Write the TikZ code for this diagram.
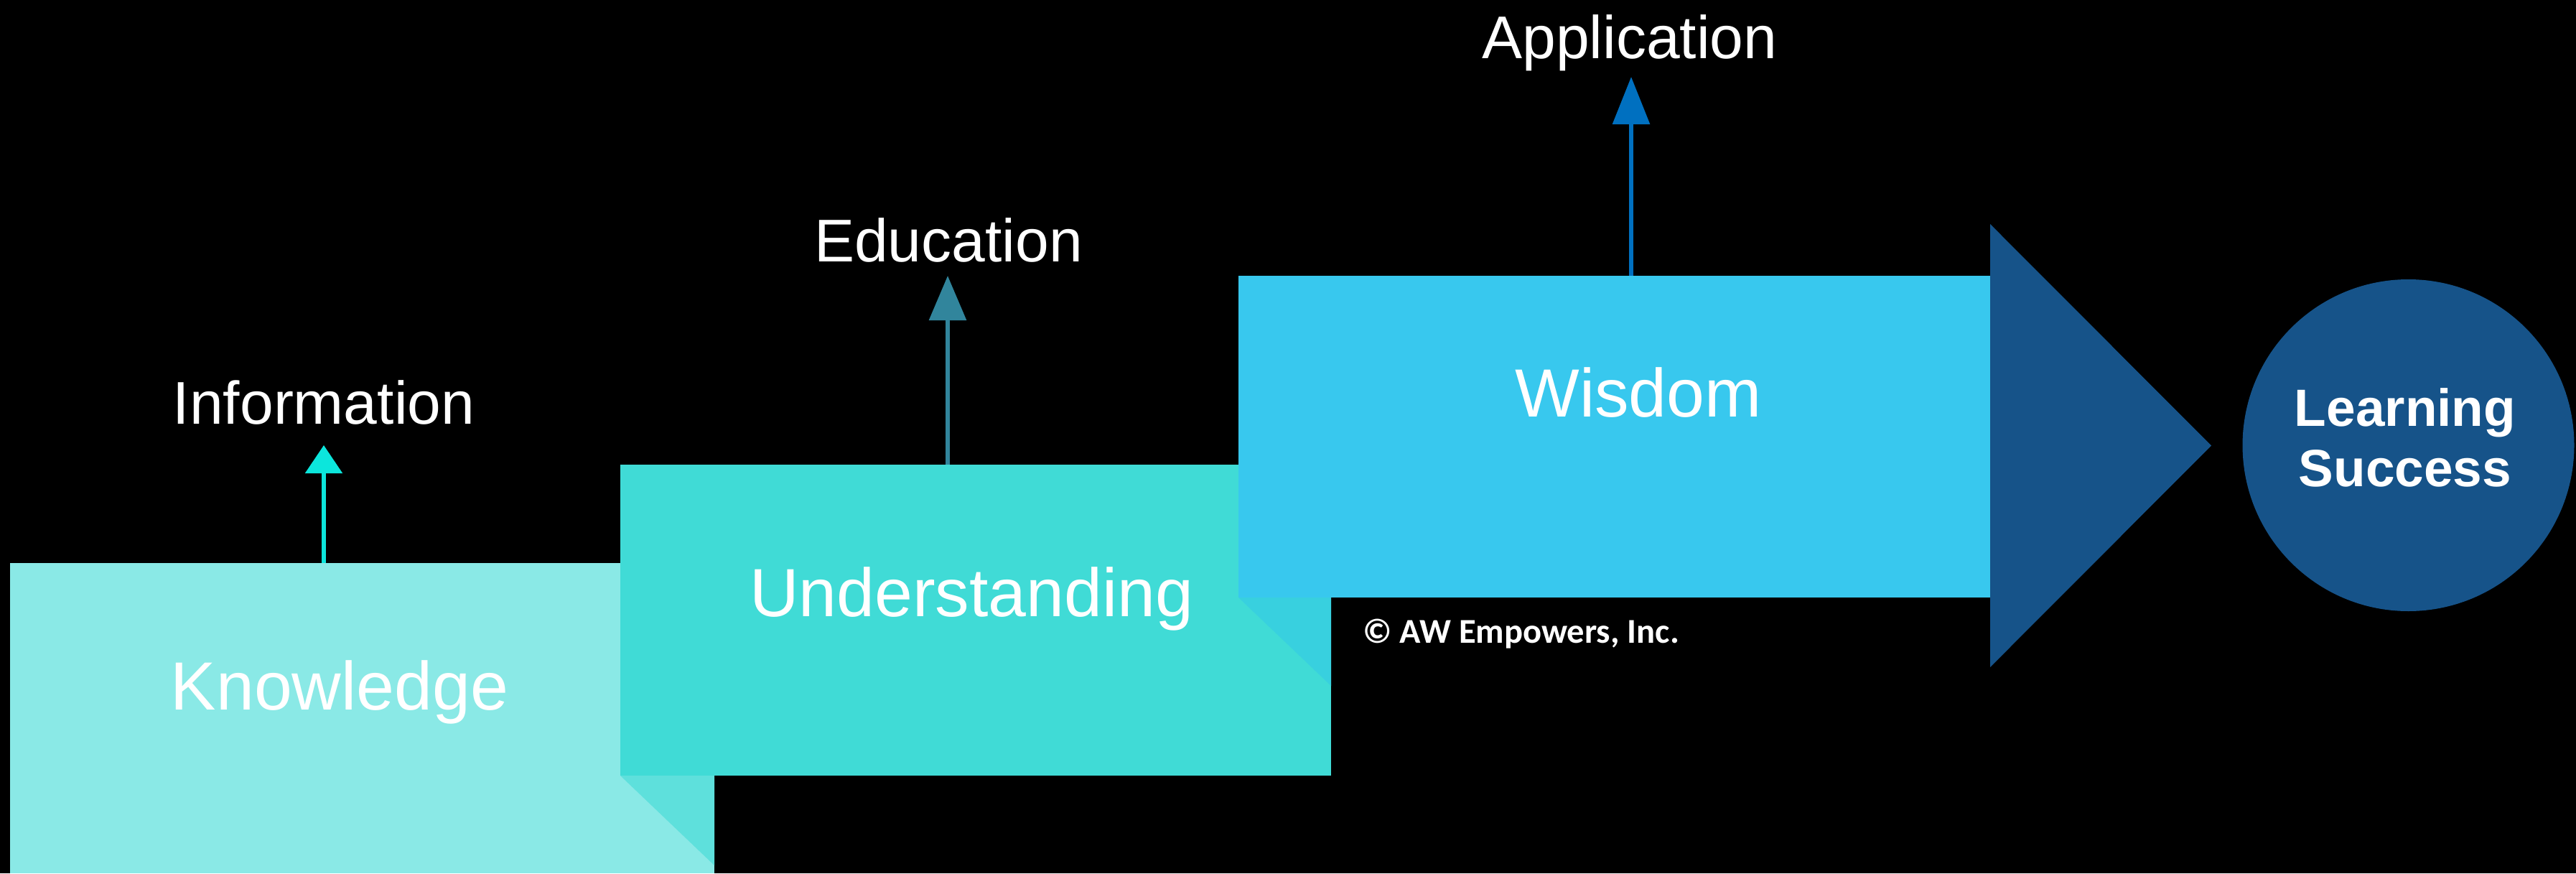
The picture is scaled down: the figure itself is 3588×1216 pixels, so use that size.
\documentclass[tikz,border=0pt]{standalone}
\usepackage{fontspec}
\setmainfont{Liberation Sans}
\newfontfamily\califont{Carlito}
\usetikzlibrary{arrows.meta}
\definecolor{knowc}{HTML}{8AE9E6}
\definecolor{knowfoldc}{HTML}{5EE0DC}
\definecolor{undc}{HTML}{40DBD6}
\definecolor{undfoldc}{HTML}{38D0DF}
\definecolor{wisc}{HTML}{38C8EE}
\definecolor{darkc}{HTML}{165389}
\definecolor{infoc}{HTML}{0CE6DC}
\definecolor{educ}{HTML}{31859C}
\definecolor{appc}{HTML}{0070C0}
\tikzset{
  panel/.style={rectangle, anchor=north west, inner sep=0pt, outer sep=0pt},
  toplbl/.style={text=white, inner sep=0pt, anchor=base, font=\fontsize{84}{96}\selectfont},
  boxlbl/.style={text=white, inner sep=0pt, anchor=base, font=\fontsize{95}{110}\selectfont},
  riser/.style={line width=6pt},
}
\begin{document}
\begin{tikzpicture}[x=1pt,y=-1pt]
\fill[black] (0,0) rectangle (3588,1216);
% steps
\node[panel, fill=knowc, minimum width=981pt, minimum height=432pt] (know) at (14,784) {};
\fill[knowfoldc] (864,1080) -- (995,1080) -- (995,1205) -- cycle;
\node[panel, fill=undc, minimum width=990pt, minimum height=433pt] (und) at (864,647) {};
\fill[undfoldc] (1725,832) -- (1854,832) -- (1854,955) -- cycle;
\node[panel, fill=wisc, minimum width=1047pt, minimum height=448pt] (wis) at (1725,384) {};
\fill[darkc] (2772,312) -- (3080,620.5) -- (2772,929) -- cycle;
\node[circle, fill=darkc, inner sep=0pt, minimum size=462pt] (goal) at (3354.5,620) {};
% labels
\node[boxlbl] (knowt) at (473,988) {Knowledge};
\node[boxlbl] (undt) at (1353,858) {Understanding};
\node[boxlbl] (wist) at (2282,580) {Wisdom};
\node[toplbl] (infot) at (451,590) {Information};
\node[toplbl] (edut) at (1321,364) {Education};
\node[toplbl] (appt) at (2270,81) {Application};
\node[text=white, inner sep=0pt, anchor=base, align=center, font=\bfseries\fontsize{73}{84}\selectfont] (goalt) at (3350,677) {Learning\\Success};
\node[text=white, inner sep=0pt, anchor=base west, font=\califont\bfseries\fontsize{48.5}{58}\selectfont] (copy) at (1898,895) {© AW Empowers, Inc.};
% risers
\coordinate (infotip) at (451,620);
\coordinate (edutip) at (1320,384);
\coordinate (apptip) at (2272,107);
\draw[riser, infoc, line width=5.6pt, -{Triangle[length=39pt,width=51pt]}] (know.north -| infotip) -- (infotip);
\draw[riser, educ, -{Triangle[length=62pt,width=51pt]}] (und.north -| edutip) -- (edutip);
\draw[riser, appc, -{Triangle[length=66pt,width=51pt]}] (wis.north -| apptip) -- (apptip);
\end{tikzpicture}
\end{document}
